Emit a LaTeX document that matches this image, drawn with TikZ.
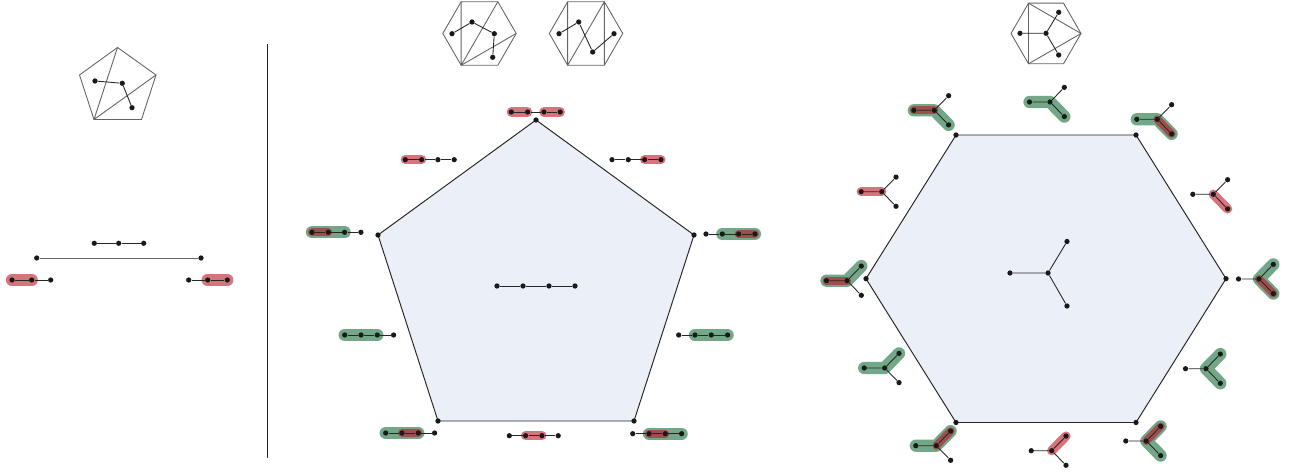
\documentclass[tikz,border=0pt]{standalone}
\usepackage{tikz}
\usetikzlibrary{backgrounds}

\definecolor{polyfill}{RGB}{234,239,248}
\definecolor{flipred}{RGB}{190,20,35}
\definecolor{flipgreen}{RGB}{20,110,55}
\definecolor{trigray}{RGB}{100,100,100}

\tikzset{
  dot/.style={circle, fill=black!90, inner sep=0pt, minimum size=3pt},
  tedge/.style={draw=black!85, line width=0.5pt},
  bigpoly/.style={draw=black!85, fill=polyfill, line width=0.55pt, line join=round},
  tripoly/.style={draw=trigray, line width=0.5pt, line join=round},
  hlgreen/.style={draw=flipgreen, draw opacity=0.6, line width=7pt, line cap=round, line join=round},
  hlred/.style={draw=flipred, draw opacity=0.6, line width=5.3pt, line cap=round, line join=round},
  hlredin/.style={hlred, line width=4.5pt},
}

% path tree: four dots in a row, optional spacing
\newcommand{\ptree}[4][16.3]{%
  \foreach \k in {1,...,4}
    \node[dot] (#2-\k) at ({#3+#1*(\k-1)},#4) {};
  \draw[tedge] (#2-1) -- (#2-2) -- (#2-3) -- (#2-4);
}

% claw: centre c, arm l to the left, arms u and d to the right
\newcommand{\claw}[3]{%
  \node[dot] (#1-c) at (#2,#3) {};
  \node[dot] (#1-l) at ({#2-20.5},#3) {};
  \node[dot] (#1-u) at ({#2+14.3},{#3-14.6}) {};
  \node[dot] (#1-d) at ({#2+14.3},{#3+14.6}) {};
  \draw[tedge] (#1-l) -- (#1-c) (#1-u) -- (#1-c) -- (#1-d);
}

% small hexagon, flat top, corners 1..6 clockwise from the left one
\newcommand{\smallhex}[4]{%
  \foreach \a [count=\i] in {180,240,300,0,60,120}
    \coordinate (#1-\i) at ([shift={(#2,#3)}]\a:#4);
  \draw[tripoly] (#1-1) -- (#1-2) -- (#1-3) -- (#1-4) -- (#1-5) -- (#1-6) -- cycle;
}

\begin{document}
\begin{tikzpicture}[x=0.02cm, y=-0.02cm]
\useasboundingbox (0,0) rectangle (1290,472);

% ---------- left: one flip in the pentagon ----------
\coordinate (q1) at (117.5,47.5);
\coordinate (q2) at (156,75);
\coordinate (q3) at (141.5,119.5);
\coordinate (q4) at (94,119.5);
\coordinate (q5) at (79.5,75);
\draw[tripoly] (q1) -- (q2) -- (q3) -- (q4) -- (q5) -- cycle;
\draw[tripoly] (q1) -- (q4) -- (q2);
\node[dot] (qa) at (95,81) {};
\node[dot] (qb) at (122.3,83.3) {};
\node[dot] (qc) at (132,107.7) {};
\draw[tedge] (qa) -- (qb) -- (qc);

\node[dot] (m1) at (94.3,243.3) {};
\node[dot] (m2) at (118.7,243.3) {};
\node[dot] (m3) at (143.7,243.3) {};
\draw[tedge] (m1) -- (m2) -- (m3);

\node[dot] (e1) at (36.7,258) {};
\node[dot] (e2) at (201,258) {};
\draw[tedge, draw=black!60] (e1) -- (e2);

\node[dot] (a1) at (12,280) {};
\node[dot] (a2) at (31.7,280) {};
\node[dot] (a3) at (50.7,280) {};
\draw[tedge] (a1) -- (a2) -- (a3);
\node[dot] (b1) at (188.7,280) {};
\node[dot] (b2) at (207.7,280) {};
\node[dot] (b3) at (227.3,280) {};
\draw[tedge] (b1) -- (b2) -- (b3);

\draw[black!85, line width=0.45pt] (267,44) -- (267,458);

% ---------- middle: pentagon of path trees ----------
\smallhex{ha}{479.5}{33.5}{36.7}
\draw[tripoly] (ha-2) -- (ha-6) -- (ha-3) (ha-6) -- (ha-4);
\node[dot] (ta1) at (452,33.7) {};
\node[dot] (ta2) at (472,22) {};
\node[dot] (ta3) at (494.3,33.7) {};
\node[dot] (ta4) at (492.7,57.3) {};
\draw[tedge] (ta1) -- (ta2) -- (ta3) -- (ta4);

\smallhex{hb}{586}{33.5}{36.7}
\draw[tripoly] (hb-2) -- (hb-6) -- (hb-3) -- (hb-5);
\node[dot] (tb1) at (559,33.7) {};
\node[dot] (tb2) at (578.7,22) {};
\node[dot] (tb3) at (592.7,52) {};
\node[dot] (tb4) at (614,33.7) {};
\draw[tedge] (tb1) -- (tb2) -- (tb3) -- (tb4);

\coordinate (P1) at (536,120);
\coordinate (P2) at (694,235);
\coordinate (P3) at (634,421);
\coordinate (P4) at (438,421);
\coordinate (P5) at (378,235);
\begin{scope}[on background layer]
  \draw[bigpoly] (P1) -- (P2) -- (P3) -- (P4) -- (P5) -- cycle;
\end{scope}
\foreach \i in {1,...,5}
  \node[dot] (pv\i) at (P\i) {};

\ptree[26]{pm}{497}{286}
\ptree{pt}{511.3}{112}
\ptree{pul}{405.3}{159.7}
\ptree{pur}{612}{159.7}
\ptree{pl}{312}{232.3}
\ptree{pr}{706}{234}
\ptree{pll}{344.7}{335}
\ptree{plr}{678.7}{335}
\ptree{pbl}{385.7}{433}
\ptree{pb}{509.3}{435.7}
\ptree{pbr}{632.7}{433.7}

% ---------- right: hexagon of claws ----------
\smallhex{hc}{1046}{33.5}{35}
\draw[tripoly] (hc-2) -- (hc-6) -- (hc-4) -- (hc-2);
\node[dot] (tc0) at (1046,33.3) {};
\node[dot] (tc1) at (1020,33.3) {};
\node[dot] (tc2) at (1058.7,12.3) {};
\node[dot] (tc3) at (1058.7,55) {};
\draw[tedge] (tc1) -- (tc0) (tc2) -- (tc0) -- (tc3);

\coordinate (H1) at (956,135);
\coordinate (H2) at (1136,135);
\coordinate (H3) at (1226,278.7);
\coordinate (H4) at (1136,422.5);
\coordinate (H5) at (956,422.5);
\coordinate (H6) at (866,278.7);
\begin{scope}[on background layer]
  \draw[bigpoly] (H1) -- (H2) -- (H3) -- (H4) -- (H5) -- (H6) -- cycle;
\end{scope}
\foreach \i in {1,...,6}
  \node[dot] (hv\i) at (H\i) {};

\node[dot] (hm-c) at (1048,273) {};
\node[dot] (hm-l) at (1010,273) {};
\node[dot] (hm-u) at (1067,241.5) {};
\node[dot] (hm-d) at (1067,306) {};
\draw[tedge] (hm-l) -- (hm-c) (hm-u) -- (hm-c) -- (hm-d);

\claw{hnw}{934.3}{110.3}
\claw{hn}{1050}{102}
\claw{hne}{1157.3}{119.3}
\claw{hwn}{881.7}{191.7}
\claw{hen}{1213.3}{194.3}
\claw{hw}{847}{280.7}
\claw{he}{1259}{279}
\claw{hws}{884.7}{368}
\claw{hes}{1206}{368.7}
\claw{hsw}{936.3}{445.7}
\claw{hs}{1051.7}{450.7}
\claw{hse}{1146.3}{441}

% ---------- highlights ----------
\begin{scope}[on background layer]
  \draw[hlred, line width=7pt] (a1.center) -- (a2.center);
  \draw[hlred, line width=7pt] (b2.center) -- (b3.center);

  \draw[hlred] (pt-1.center) -- (pt-2.center);
  \draw[hlred] (pt-3.center) -- (pt-4.center);
  \draw[hlred] (pul-1.center) -- (pul-2.center);
  \draw[hlred] (pur-3.center) -- (pur-4.center);
  \draw[hlgreen] (pl-1.center) -- (pl-3.center);
  \draw[hlredin] (pl-1.center) -- (pl-2.center);
  \draw[hlgreen] (pr-2.center) -- (pr-4.center);
  \draw[hlredin] (pr-3.center) -- (pr-4.center);
  \draw[hlgreen] (pll-1.center) -- (pll-3.center);
  \draw[hlgreen] (plr-2.center) -- (plr-4.center);
  \draw[hlgreen] (pbl-1.center) -- (pbl-3.center);
  \draw[hlredin] (pbl-2.center) -- (pbl-3.center);
  \draw[hlred] (pb-2.center) -- (pb-3.center);
  \draw[hlgreen] (pbr-2.center) -- (pbr-4.center);
  \draw[hlredin] (pbr-2.center) -- (pbr-3.center);

  \draw[hlgreen] (hnw-l.center) -- (hnw-c.center) -- (hnw-d.center);
  \draw[hlredin] (hnw-l.center) -- (hnw-c.center);
  \draw[hlgreen] (hn-l.center) -- (hn-c.center) -- (hn-d.center);
  \draw[hlgreen] (hne-l.center) -- (hne-c.center) -- (hne-d.center);
  \draw[hlredin] (hne-c.center) -- (hne-d.center);
  \draw[hlred] (hwn-l.center) -- (hwn-c.center);
  \draw[hlred] (hen-c.center) -- (hen-d.center);
  \draw[hlgreen] (hw-l.center) -- (hw-c.center) -- (hw-u.center);
  \draw[hlredin] (hw-l.center) -- (hw-c.center);
  \draw[hlgreen] (he-u.center) -- (he-c.center) -- (he-d.center);
  \draw[hlredin] (he-c.center) -- (he-d.center);
  \draw[hlgreen] (hws-l.center) -- (hws-c.center) -- (hws-u.center);
  \draw[hlgreen] (hes-u.center) -- (hes-c.center) -- (hes-d.center);
  \draw[hlgreen] (hsw-l.center) -- (hsw-c.center) -- (hsw-u.center);
  \draw[hlredin] (hsw-c.center) -- (hsw-u.center);
  \draw[hlred] (hs-c.center) -- (hs-u.center);
  \draw[hlgreen] (hse-u.center) -- (hse-c.center) -- (hse-d.center);
  \draw[hlredin] (hse-c.center) -- (hse-u.center);
\end{scope}
\end{tikzpicture}
\end{document}
